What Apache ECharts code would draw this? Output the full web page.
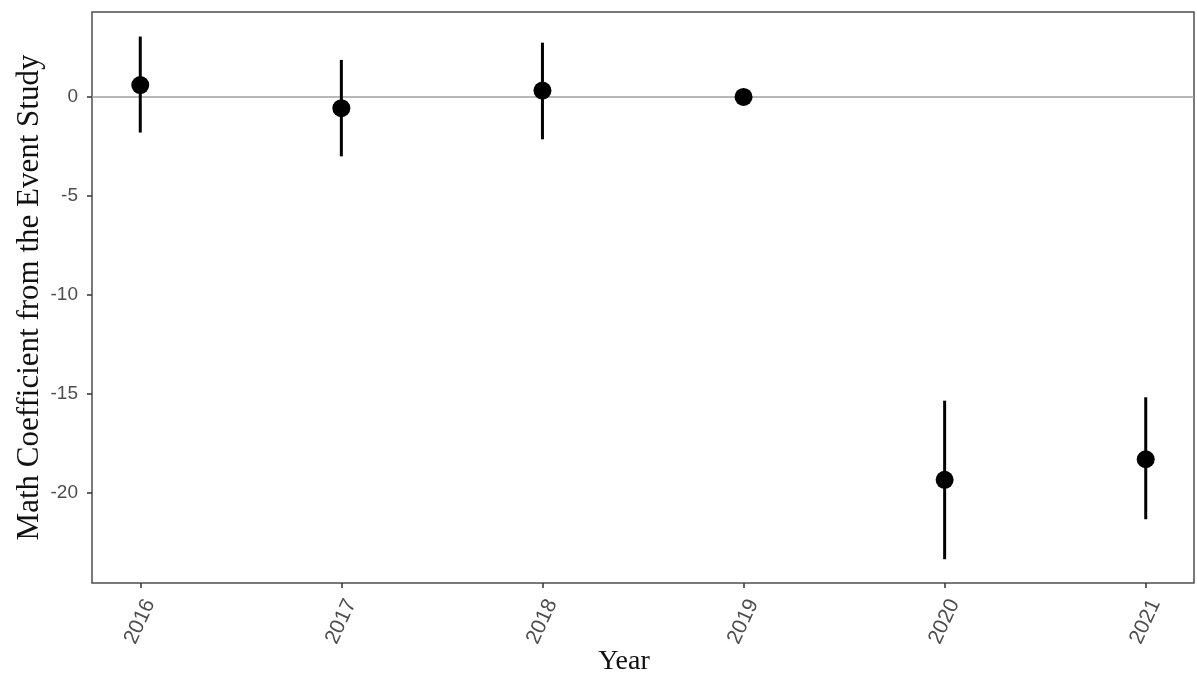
<!DOCTYPE html>
<html>
<head>
<meta charset="utf-8">
<script src="https://cdn.jsdelivr.net/npm/echarts@6/dist/echarts.min.js"></script>
<style>
  html, body { margin: 0; padding: 0; background: #fff; }
  #chart { width: 1197px; height: 675px; }
</style>
</head>
<body>
<div id="chart"></div>
<script>
// 年份
const years = [2016, 2017, 2018, 2019, 2020, 2021]
// 系数估计值
const coef = [0.6, -0.57, 0.32, 0, -19.34, -18.3]
// 置信区间下限 / 上限 (2019 为基准年，没有区间)
const ciLow = [-1.8, -3.0, -2.14, null, -23.35, -21.33]
const ciHigh = [3.05, 1.87, 2.74, null, -15.34, -15.17]
// y轴刻度
const yTicks = [-20, -15, -10, -5, 0]

const pointData = years.map((y, i) => [y, coef[i]])
const barData = years
  .map((y, i) => [y, ciLow[i], ciHigh[i]])
  .filter((d) => d[1] !== null)

const option = {
  backgroundColor: '#fff',
  animation: false,
  grid: {
    left: 92,
    right: 3,
    top: 12,
    bottom: 92,
    outerBoundsMode: 'none',
    containLabel: false,
    show: true,
    borderColor: '#4d4d4d',
    borderWidth: 1.5,
    backgroundColor: '#fff',
  },
  xAxis: {
    type: 'value',
    min: 2015.76,
    max: 2021.24,
    name: 'Year',
    nameLocation: 'middle',
    nameMoveOverlap: false,
    nameGap: 65,
    nameTextStyle: {
      fontFamily: 'Liberation Serif',
      fontSize: 28,
      color: '#111',
      padding: [0, 38, 0, 0],
    },
    axisLine: { show: false, onZero: false },
    splitLine: { show: false },
    axisTick: {
      show: true,
      length: 5,
      customValues: years,
      lineStyle: { color: '#333', width: 1.5 },
    },
    axisLabel: {
      customValues: years,
      rotate: 65,
      margin: 13,
      verticalAlign: 'top',
      fontFamily: 'Liberation Sans',
      fontSize: 21,
      color: '#4d4d4d',
      formatter: (v) => String(v),
    },
  },
  yAxis: {
    type: 'value',
    min: -24.55,
    max: 4.29,
    name: 'Math Coefficient from the Event Study',
    nameLocation: 'middle',
    nameMoveOverlap: false,
    nameGap: 47,
    nameTextStyle: {
      fontFamily: 'Liberation Serif',
      fontSize: 31,
      color: '#111',
    },
    axisLine: { show: false, onZero: false },
    splitLine: { show: false },
    axisTick: {
      show: true,
      length: 5,
      customValues: yTicks,
      lineStyle: { color: '#333', width: 1.5 },
    },
    axisLabel: {
      customValues: yTicks,
      margin: 14,
      fontFamily: 'Liberation Sans',
      fontSize: 19,
      color: '#4d4d4d',
    },
  },
  series: [
    // 置信区间竖线
    {
      type: 'custom',
      data: barData,
      renderItem: function (params, api) {
        const x = api.value(0)
        const p1 = api.coord([x, api.value(1)])
        const p2 = api.coord([x, api.value(2)])
        return {
          type: 'line',
          shape: { x1: p1[0], y1: p1[1], x2: p2[0], y2: p2[1] },
          style: { stroke: '#000', lineWidth: 3 },
        }
      },
      z: 3,
    },
    // 系数点
    {
      type: 'scatter',
      data: pointData,
      symbol: 'circle',
      symbolSize: 18,
      itemStyle: { color: '#000', opacity: 1 },
      z: 4,
      markLine: {
        silent: true,
        symbol: 'none',
        label: { show: false },
        lineStyle: { color: '#a0a0a0', width: 1.5, type: 'solid', opacity: 1 },
        data: [{ yAxis: 0 }],
        z: 2,
      },
    },
  ],
}
echarts.init(document.getElementById('chart')).setOption(option)
</script>
</body>
</html>
